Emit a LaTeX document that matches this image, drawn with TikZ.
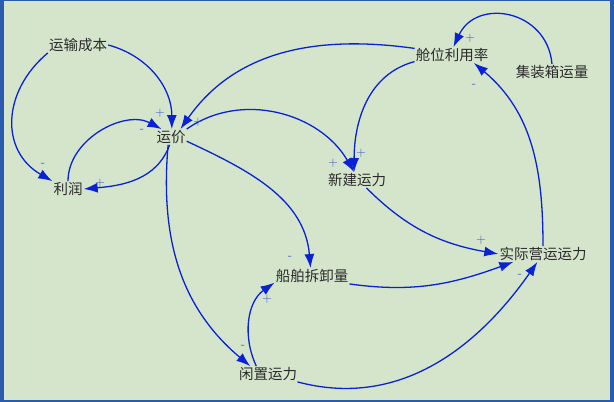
\documentclass[tikz,border=0pt]{standalone}
\usepackage{fontspec}
\newfontfamily\cjk{Noto Sans CJK SC}
\usetikzlibrary{arrows.meta}
\definecolor{bgreen}{HTML}{D4E5CC}
\definecolor{frameblue}{HTML}{2B5BAF}
\definecolor{linkblue}{HTML}{0A22D6}
\definecolor{signblue}{HTML}{3A4EC4}
\definecolor{txtgray}{HTML}{2B2B2B}

\begin{document}
\begin{tikzpicture}[x=1pt,y=1pt,
    var/.style={font=\cjk\fontsize{14.5}{14.5}\selectfont, text=txtgray, inner sep=1pt},
    link/.style={linkblue, line width=1.3pt, -{Latex[length=14pt,width=10pt]}},
    sgn/.style={signblue, font=\fontsize{13}{13}\selectfont, inner sep=0pt}]

    % frame and background
    \fill[frameblue] (0,0) rectangle (614,402);
    \fill[bgreen] (4,2) rectangle (610,401);
    \useasboundingbox (0,0) rectangle (614,402);

    % variables
    \node[var] (ysc) at (78,357) {运输成本};
    \node[var] (yj)  at (171,265) {运价};
    \node[var] (lr)  at (68,213) {利润};
    \node[var] (cw)  at (452,347) {舱位利用率};
    \node[var] (jzx) at (552,330) {集装箱运量};
    \node[var] (xj)  at (357,222) {新建运力};
    \node[var] (sj)  at (543,148) {实际营运运力};
    \node[var] (cb)  at (312,126) {船舶拆卸量};
    \node[var] (xz)  at (268,28) {闲置运力};

    % causal links
    \draw[link] (ysc.east) to[out=-15,in=90] (yj.84);
    \draw[link] (ysc.south west) to[out=220,in=150,looseness=1.2] (lr.north west);
    \draw[link] (lr.north) to[out=90,in=152] (yj.140);
    \draw[link] (yj.-100) to[out=250,in=5] (lr.east);
    \draw[link] (cw.170) to[out=172,in=55] (yj.40);
    \draw[link] (yj.north east) to[out=35,in=120] (xj.110);
    \draw[link] (cw.190) to[out=195,in=90] (xj.110);
    \draw[link] (jzx.north) to[out=95,in=65,looseness=1.4] (cw.80);
    \draw[link] (sj.north) to[out=90,in=-40] (cw.-20);
    \draw[link] (xj.-40) to[out=-45,in=170] (sj.west);
    \draw[link] (yj.-15) to[out=-25,in=95] (cb.100);
    \draw[link] (cb.south east) to[out=-8,in=200] (sj.195);
    \draw[link] (xz.-15) to[out=-15,in=235] (sj.-125);
    \draw[link] (yj.-110) to[out=-95,in=140] (xz.156);
    \draw[link] (xz.146) to[out=115,in=215] (cb.190);

    % polarities
    \node[sgn] (p1)  at (160,289) {+};
    \node[sgn] (p2)  at (142,271) {-};
    \node[sgn] (p3)  at (198,280) {+};
    \node[sgn] (p4)  at (43,237) {-};
    \node[sgn] (p5)  at (100,219) {+};
    \node[sgn] (p6)  at (333,239) {+};
    \node[sgn] (p7)  at (361,249) {+};
    \node[sgn] (p8)  at (470,364) {+};
    \node[sgn] (p9)  at (474,316) {-};
    \node[sgn] (p10) at (481,162) {+};
    \node[sgn] (p11) at (290,144) {-};
    \node[sgn] (p12) at (503,131) {-};
    \node[sgn] (p13) at (520,126) {-};
    \node[sgn] (p14) at (267,103) {+};
    \node[sgn] (p15) at (243,55) {-};

\end{tikzpicture}
\end{document}
